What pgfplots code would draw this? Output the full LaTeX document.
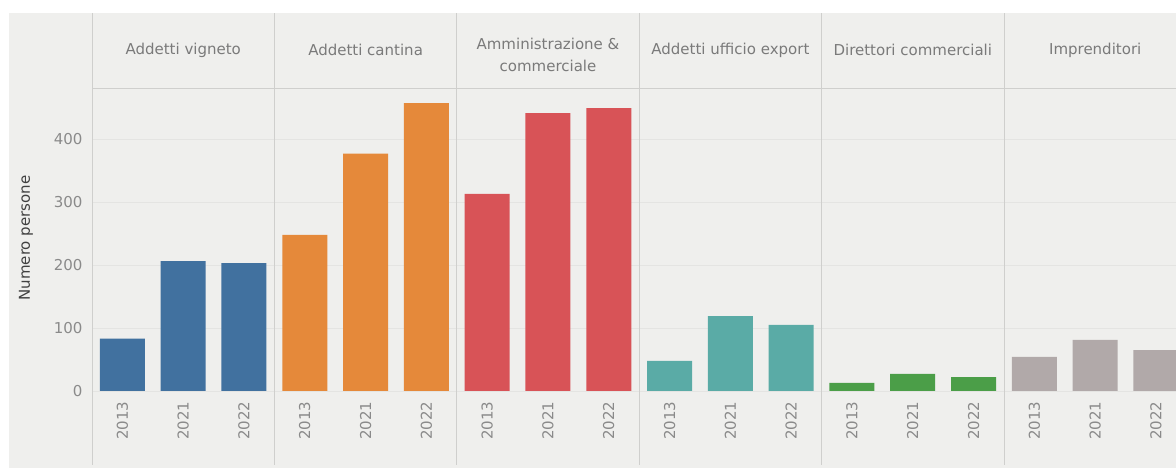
\documentclass[border=0pt]{standalone}
\usepackage{pgfplots}
\pgfplotsset{compat=1.18}
\usepackage{fontspec}
\setmainfont{DejaVu Sans}
\definecolor{bgc}{HTML}{EFEFED}
\definecolor{sepc}{HTML}{CFCFCD}
\definecolor{gridc}{HTML}{E4E4E2}
\definecolor{txtc}{HTML}{8A8A8A}
\definecolor{hdrc}{HTML}{7A7A7A}
\definecolor{cblue}{HTML}{41719F}
\definecolor{corange}{HTML}{E5893A}
\definecolor{cred}{HTML}{D85357}
\definecolor{cteal}{HTML}{5AABA6}
\definecolor{cgreen}{HTML}{4B9E48}
\definecolor{cgrey}{HTML}{B1A9A9}
\begin{document}
\begin{tikzpicture}[x=1pt,y=1pt]
\useasboundingbox (0,0) rectangle (1176,468);
\fill[bgc] (9,0) rectangle (1176,455);
\begin{axis}[
  at={(92pt,77pt)}, anchor=south west,
  scale only axis, width=1084pt, height=303pt,
  xmin=-0.5, xmax=17.33, ymin=0, ymax=481,
  axis line style={draw=none},
  tick style={draw=none},
  ytick={0,100,200,300,400},
  ymajorgrids, grid style={gridc, line width=0.8pt},
  xtick={0,...,17},
  xticklabels={2013,2021,2022,2013,2021,2022,2013,2021,2022,2013,2021,2022,2013,2021,2022,2013,2021,2022},
  xticklabel style={rotate=90, anchor=east, text=txtc, font=\fontsize{15}{18}\selectfont, xshift=-7pt},
  yticklabel style={text=txtc, font=\fontsize{15}{18}\selectfont, xshift=-6pt},
  /pgf/number format/assume math mode=true,
  ylabel={Numero persone},
  every axis y label/.style={at={(axis description cs:-0.061,0.505)}, rotate=90, anchor=center, text=black!75, font=\fontsize{15}{18}\selectfont},
]
\addplot[ybar, bar shift=0pt, bar width=45pt, fill=cblue, draw=none] coordinates {(0,83) (1,206) (2,203)};
\addplot[ybar, bar shift=0pt, bar width=45pt, fill=corange, draw=none] coordinates {(3,248) (4,377) (5,457)};
\addplot[ybar, bar shift=0pt, bar width=45pt, fill=cred, draw=none] coordinates {(6,313) (7,441) (8,449)};
\addplot[ybar, bar shift=0pt, bar width=45pt, fill=cteal, draw=none] coordinates {(9,48) (10,119) (11,105)};
\addplot[ybar, bar shift=0pt, bar width=45pt, fill=cgreen, draw=none] coordinates {(12,13) (13,27) (14,22)};
\addplot[ybar, bar shift=0pt, bar width=45pt, fill=cgrey, draw=none] coordinates {(15,54) (16,81) (17,65)};
\end{axis}
% header bottom line
\draw[sepc, line width=0.8pt] (92,380) -- (1176,380);
% panel separators
\foreach \xx in {92,274.4,456.8,639.2,821.6,1004} {
  \draw[sepc, line width=0.8pt] (\xx,3) -- (\xx,455);
}
% headers
\begin{scope}[every node/.style={text=hdrc, font=\fontsize{15}{22}\selectfont, align=center}]
\node at (183.2,418) {Addetti vigneto};
\node at (365.6,418) {Addetti cantina};
\node at (548,413) {Amministrazione \&\\commerciale};
\node at (730.4,418) {Addetti ufficio export};
\node at (912.8,418) {Direttori commerciali};
\node at (1095.2,418) {Imprenditori};
\end{scope}
\end{tikzpicture}
\end{document}
